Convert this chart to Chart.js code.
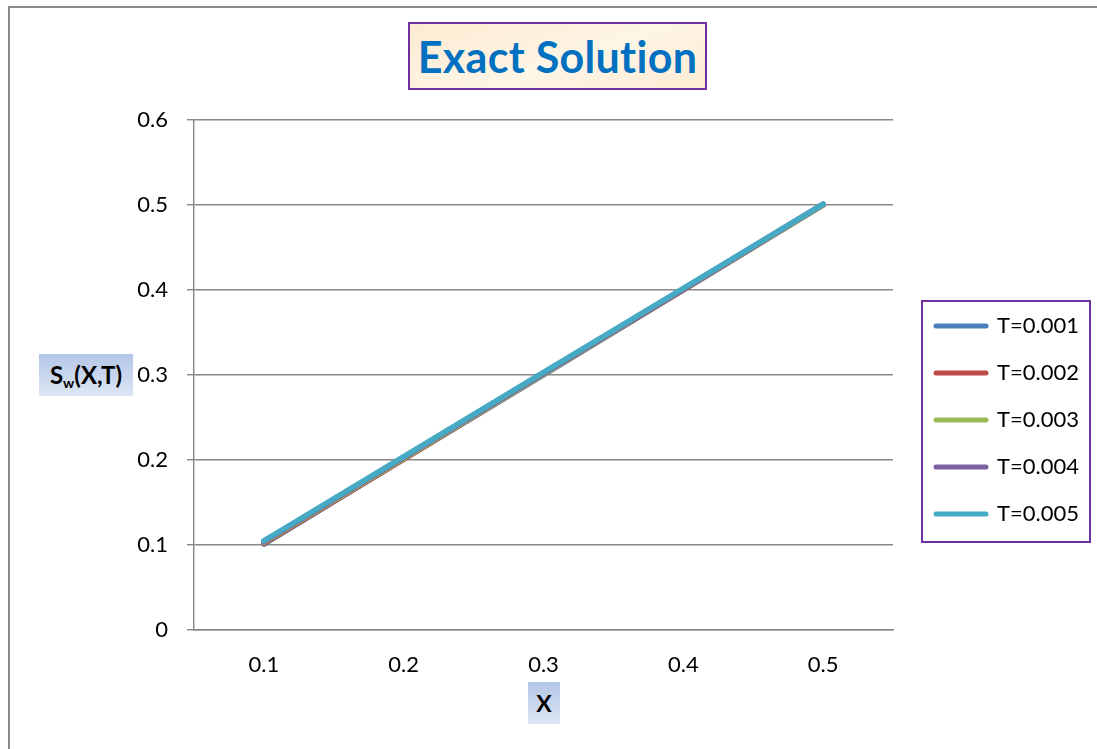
<!DOCTYPE html>
<html>
<head>
<meta charset="utf-8">
<script src="https://cdn.jsdelivr.net/npm/chart.js@4/dist/chart.umd.min.js"></script>
<style>
  body { margin: 0; background: #fff; }
  #wrap { position: relative; width: 1097px; height: 749px; overflow: hidden; }
  #frame { position: absolute; left: 8px; top: 6px; width: 1200px; height: 800px;
           border-left: 2px solid #8a8a8a; border-top: 2px solid #8a8a8a; }
  canvas { position: absolute; left: 0; top: 0; }
  .box { position: absolute; box-sizing: border-box; display: flex; align-items: center;
         justify-content: center; font-family: Lato, sans-serif; font-weight: bold; }
  #title { left: 408px; top: 22px; width: 299px; height: 68px; border: 2px solid #7030a0;
           background: linear-gradient(160deg, #fdebd1, #fef5e6 55%, #fdecd3);
           color: #0070c0; font-size: 43px; letter-spacing: 0.3px; }
  #ytitle { left: 39px; top: 354px; width: 94px; height: 42px; font-size: 24px; color: #000;
            background: linear-gradient(#b3c6e7, #dde6f4); }
  #ytitle sub { font-size: 14px; vertical-align: -4px; }
  #xtitle { left: 528px; top: 682px; width: 32px; height: 42px; font-size: 23px; color: #000;
            background: linear-gradient(#b3c6e7, #dde6f4); }
</style>
</head>
<body>
<div id="wrap">
  <div id="frame"></div>
  <canvas id="chart" width="1097" height="749"></canvas>
  <div class="box" id="title">Exact Solution</div>
  <div class="box" id="ytitle"><span>S<sub>w</sub>(X,T)</span></div>
  <div class="box" id="xtitle">X</div>
</div>
<script>
// categories on the x axis
const xLabels = ['0.1', '0.2', '0.3', '0.4', '0.5'];
const yTicks = ['0', '0.1', '0.2', '0.3', '0.4', '0.5', '0.6'];

// one series per time level
const seriesNames = ['T=0.001', 'T=0.002', 'T=0.003', 'T=0.004', 'T=0.005'];
const t001 = [0.101, 0.201, 0.300, 0.400, 0.500];
const t002 = [0.102, 0.201, 0.301, 0.400, 0.500];
const t003 = [0.103, 0.202, 0.301, 0.401, 0.500];
const t004 = [0.104, 0.203, 0.302, 0.401, 0.501];
const t005 = [0.105, 0.204, 0.303, 0.402, 0.501];
const seriesColors = ['#4a7ebb', '#be4b48', '#98b954', '#7d60a0', '#46aac5'];

const allSeries = [t001, t002, t003, t004, t005];
const gridColor = '#888888';

const legendTweak = {
  id: 'legendTweak',
  afterLayout(chart) {
    // move the legend a little away from the plot, like excel does
    const lg = chart.legend;
    lg.left = 911;
    lg.right = 1097;
    lg.top = 120;
    lg.bottom = 720;
  },
  afterDraw(chart) {
    const hb = chart.legend.legendHitBoxes;
    if (!hb || !hb.length) return;
    const last = hb[hb.length - 1];
    const ctx = chart.ctx;
    const x0 = hb[0].left - 14, y0 = hb[0].top - 14;
    const y1 = last.top + last.height + 17;
    ctx.save();
    ctx.strokeStyle = '#7030a0';
    ctx.lineWidth = 2;
    ctx.strokeRect(x0, y0, 168, y1 - y0);
    ctx.restore();
  }
};

new Chart(document.getElementById('chart'), {
  type: 'line',
  data: {
    labels: xLabels,
    datasets: allSeries.map((vals, i) => ({
      label: seriesNames[i],
      data: vals,
      borderColor: seriesColors[i],
      backgroundColor: seriesColors[i],
      borderWidth: 5.5,
      borderCapStyle: 'round',
      borderJoinStyle: 'round',
      pointRadius: 0,
      tension: 0,
      order: allSeries.length - i
    }))
  },
  options: {
    responsive: false,
    animation: false,
    layout: { padding: { left: 0, top: 120, right: 64, bottom: 0 } },
    plugins: {
      title: { display: false },
      tooltip: { enabled: false },
      legend: {
        position: 'right',
        maxWidth: 140,
        labels: {
          usePointStyle: true,
          pointStyle: 'line',
          pointStyleWidth: 50,
          padding: 25,
          color: '#000',
          font: { family: 'Lato', size: 22 },
          sort: (a, b) => a.datasetIndex - b.datasetIndex,
          generateLabels(chart) {
            const items = Chart.defaults.plugins.legend.labels.generateLabels(chart);
            items.forEach(it => {
              it.lineCap = 'round';
              it.lineWidth = 5;
              it.strokeStyle = seriesColors[it.datasetIndex];
            });
            return items;
          }
        }
      }
    },
    scales: {
      x: {
        offset: true,
        grid: { display: false, drawTicks: false },
        border: { display: true, color: gridColor, width: 1.4 },
        ticks: { color: '#000', padding: 22, font: { family: 'Lato', size: 22 } },
        afterFit(scale) { scale.height = 119; }
      },
      y: {
        min: 0,
        max: 0.6,
        grid: { color: gridColor, lineWidth: 1.4, tickLength: 7 },
        border: { display: true, color: gridColor, width: 1.4 },
        ticks: {
          stepSize: 0.1,
          color: '#000',
          padding: 19,
          font: { family: 'Lato', size: 22 },
          callback: (v, i) => yTicks[i]
        },
        afterFit(scale) { scale.width = 194; }
      }
    }
  },
  plugins: [legendTweak]
});
</script>
</body>
</html>
